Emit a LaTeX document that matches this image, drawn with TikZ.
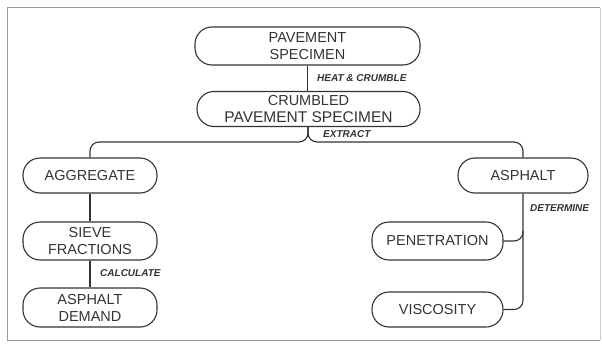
\documentclass[tikz,border=0pt]{standalone}
\usepackage{fontspec}
\setmainfont{Liberation Sans}
\begin{document}
\begin{tikzpicture}[x=1pt,y=-1pt,
  box/.style={draw=ink, line width=1.1pt, rounded corners=17pt, inner sep=0pt,
    align=center, text=ink, font=\fontsize{14.5}{17}\selectfont},
  conn/.style={draw=ink, line width=1.1pt, rounded corners=9pt},
  lbl/.style={anchor=west, inner sep=0pt, text=ink, font=\fontsize{10}{12}\selectfont\bfseries\itshape}]
\definecolor{ink}{HTML}{333333}
\definecolor{frame}{HTML}{9A9A9A}
\useasboundingbox (0,0) rectangle (602,345);
% frame
\draw[frame, line width=1pt] (600,8) -- (7,8) -- (7,340) -- (600,340);
\draw[frame!50, line width=0.6pt] (600,8) -- (600,340);
% nodes
\node[box, minimum width=225pt, minimum height=38pt] (spec) at (307.5,46) {PAVEMENT\\SPECIMEN};
\node[box, minimum width=223pt, minimum height=35pt] (crumb) at (308.5,109) {CRUMBLED\\\fontsize{15.5}{17}\selectfont PAVEMENT SPECIMEN};
\node[box, minimum width=134pt, minimum height=35pt] (agg) at (90,175.5) {AGGREGATE};
\node[box, minimum width=134pt, minimum height=38pt] (sieve) at (90,241) {SIEVE\\FRACTIONS};
\node[box, minimum width=134pt, minimum height=39pt] (demand) at (90,307.5) {ASPHALT\\DEMAND};
\node[box, minimum width=130pt, minimum height=35pt] (asph) at (523,175.5) {ASPHALT};
\node[box, minimum width=131pt, minimum height=38pt] (pen) at (437.5,241) {PENETRATION};
\node[box, minimum width=131pt, minimum height=35pt] (visc) at (437.5,309.5) {VISCOSITY};
% connectors
\coordinate (j) at (308,142);
\draw[conn] (spec.south) -- (spec.south |- crumb.north);
\draw[conn] (crumb.south -| j) |- (agg.north |- j) -- (agg.north);
\draw[conn] (crumb.south -| j) |- (asph.north |- j) -- (asph.north);
\draw[conn] (agg.south) -- (sieve.north);
\draw[conn] (sieve.south) -- (demand.north);
\draw[conn] (asph.south) |- (visc.east);
\draw[conn] (pen.east) -| ([yshift=10pt]pen.east -| asph.south);
% labels
\node[lbl] (l1) at (317,78) {HEAT \& CRUMBLE};
\node[lbl] (l2) at (323,134) {EXTRACT};
\node[lbl] (l3) at (100,273) {CALCULATE};
\node[lbl] (l4) at (530,208) {DETERMINE};
\end{tikzpicture}
\end{document}
